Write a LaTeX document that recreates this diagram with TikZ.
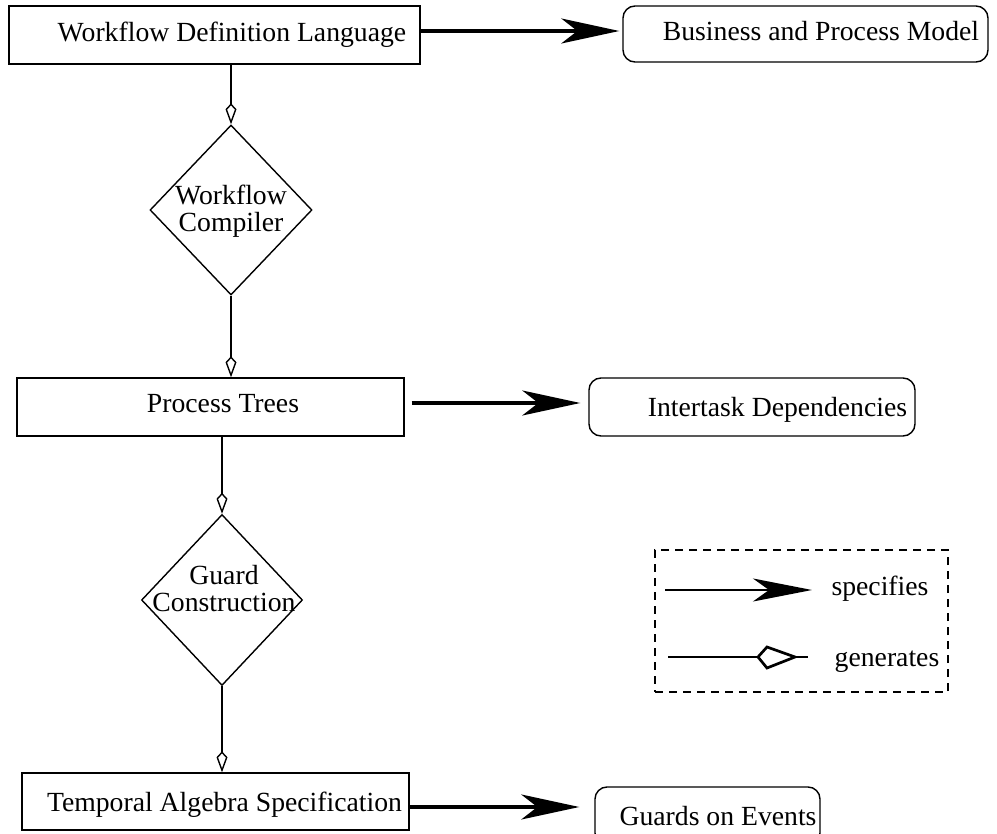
\documentclass[tikz,border=0pt]{standalone}
\usepackage{fontspec}
\setmainfont{Liberation Serif}
\usetikzlibrary{shapes.geometric,arrows.meta}
\begin{document}
\begin{tikzpicture}[x=1pt,y=-1pt,
  every node/.style={font=\fontsize{27.7pt}{27pt}\selectfont},
  box/.style={draw, line width=1.4pt, inner sep=0pt},
  rbox/.style={box, rounded corners=12pt},
  dia/.style={draw, diamond, line width=1.4pt, inner sep=0pt},
  lbl/.style={inner sep=0pt, align=center},
  gen/.style={line width=1.4pt, -{Kite[open, length=21pt, width=11pt, inset=6pt, line width=1.4pt]}},
  spec/.style={line width=3.2pt, -{Stealth[length=58pt, width=25pt, inset=16pt]}},
  legspec/.style={line width=2.7pt, -{Stealth[length=59pt, width=23pt, inset=16pt]}},
  leg/.style={line width=2.7pt},
  legbox/.style={draw, line width=1.4pt, dash pattern=on 8pt off 6pt}]
\useasboundingbox (0,0) rectangle (997,834);
\fill[white] (0,0) rectangle (997,834);
\clip (0,0) rectangle (997,834);

% boxes
\node[box, minimum width=411pt, minimum height=58pt] (wdl) at (214.5,35) {};
\node[lbl] (wdlt) at (232,35) {Workflow Definition Language};
\node[rbox, minimum width=365pt, minimum height=56pt] (bpm) at (805.5,34) {};
\node[lbl] (bpmt) at (821,31) {Business and Process Model};

\node[dia, minimum width=162pt, minimum height=170pt] (wc) at (231,210) {};
\node[lbl] (wct) at (231,211) {Workflow\\Compiler};

\node[box, minimum width=387pt, minimum height=58pt] (pt) at (210.5,407) {};
\node[lbl] (ptt) at (223,404) {Process Trees};
\node[rbox, minimum width=326pt, minimum height=58pt] (id) at (752,407) {};
\node[lbl] (idt) at (777.5,410) {Intertask Dependencies};

\node[dia, minimum width=161pt, minimum height=171pt] (gc) at (222,600) {};
\node[lbl] (gct) at (224,589) {Guard\\Construction};

\node[box, minimum width=387pt, minimum height=57pt] (tas) at (215.5,801.5) {};
\node[lbl] (tast) at (224.5,805) {Temporal Algebra Specification};
\node[rbox, minimum width=225pt, minimum height=58pt] (gev) at (707.5,816) {};
\node[lbl] (gevt) at (718,816) {Guards on Events};

% generates connectors
\draw[gen] (wdl.south -| wc.north) -- (wc.north);
\draw[gen] (wc.south) -- (wc.south |- pt.north);
\draw[gen] (pt.south -| gc.north) -- (gc.north);
\draw[gen] (gc.south) -- (gc.south |- tas.north);

% specifies connectors
\coordinate (a1) at ([yshift=4pt]wdl.east);
\draw[spec, shorten >=3pt] (a1) -- (a1 -| bpm.west);
\coordinate (a2) at ([yshift=4pt, xshift=7pt]pt.east);
\draw[spec, shorten >=8pt] (a2) -- (a2 -| id.west);
\coordinate (a3) at ([yshift=-5.5pt]tas.east);
\draw[spec, shorten >=15pt] (a3) -- (a3 -| gev.west);

% legend
\node[legbox, minimum width=293pt, minimum height=142pt, inner sep=0pt] (legend) at (801.5,621) {};
\coordinate (s1) at (665,590);
\coordinate (s2) at (812,590);
\draw[legspec] (s1) -- (s2);
\node[lbl] (spt) at (880,589) {specifies};
\coordinate (g1) at (668,657);
\coordinate (g2) at (808,657);
\draw[leg] (g1) -- (g2);
\draw[leg, fill=white, line join=miter] (758,657) -- (767,647) -- (795,657) -- (767,668) -- cycle;
\node[lbl] (gnt) at (887,662) {generates};
\end{tikzpicture}
\end{document}
